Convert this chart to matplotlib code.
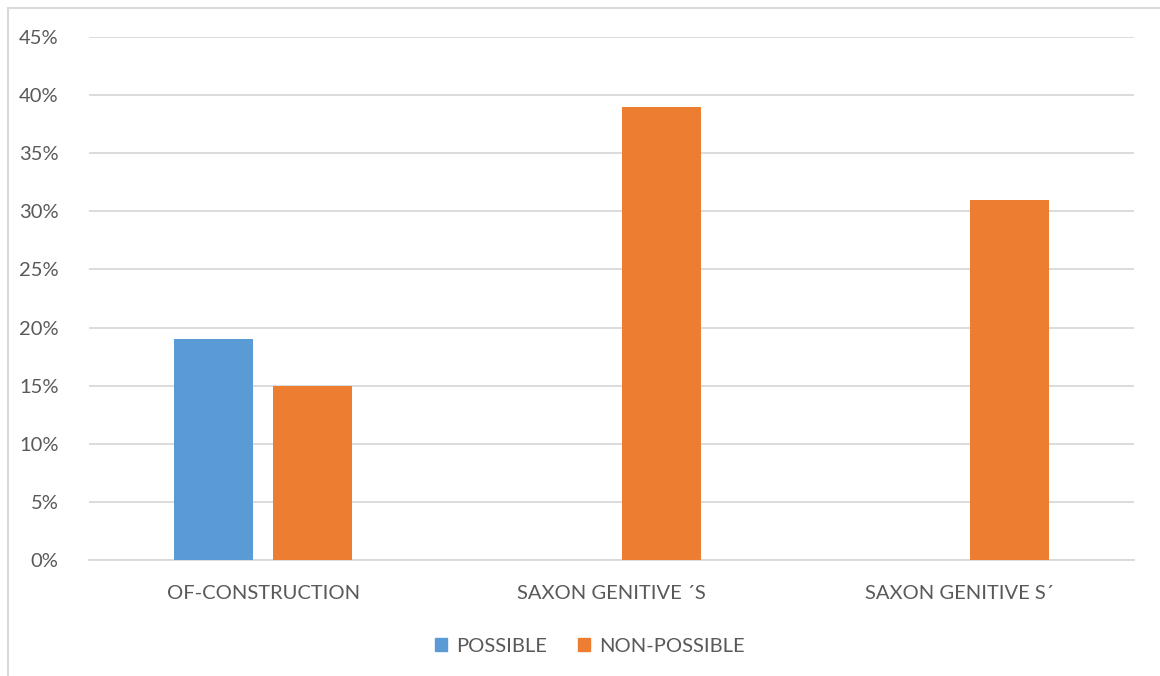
import matplotlib
matplotlib.use('Agg')
import matplotlib.pyplot as plt
from matplotlib.patches import Rectangle, Patch
from matplotlib.ticker import PercentFormatter
import numpy as np

categories = ['OF-CONSTRUCTION', 'SAXON GENITIVE \u00b4S', 'SAXON GENITIVE S\u00b4']
possible = [0.19, 0.0, 0.0]
non_possible = [0.15, 0.39, 0.31]
y_ticks = np.arange(0, 0.451, 0.05)

BLUE = '#5B9BD5'
ORANGE = '#ED7D31'
GRID = '#D9D9D9'
TEXT = '#595959'

plt.rcParams['font.family'] = ['Lato', 'DejaVu Sans']

fig = plt.figure(figsize=(11.6, 6.76), dpi=100)
ax = fig.add_axes([0.0767, 0.1716, 0.9009, 0.7737])

# chart frame (only left/top edges are inside the canvas)
fig.patches.append(Rectangle((7.5 / 1160, -0.1), 1.2, (676 - 7.5) / 676 + 0.1,
                             transform=fig.transFigure, fill=False,
                             edgecolor='#D9D9D9', linewidth=1.5))

x = np.arange(len(categories))
w = 0.227
off = 0.143
ax.bar(x - off, possible, w, color=BLUE, zorder=3)
ax.bar(x + off, non_possible, w, color=ORANGE, zorder=3)

ax.set_xlim(-0.5, 2.5)
ax.set_ylim(0, 0.45)
ax.set_yticks(y_ticks)
ax.yaxis.set_major_formatter(PercentFormatter(1.0, decimals=0))
ax.grid(axis='y', color=GRID, linewidth=1.3, zorder=0)
ax.set_axisbelow(True)
ax.set_xticks(x)
ax.set_xticklabels(categories)
ax.tick_params(axis='both', length=0, labelsize=14.5, colors=TEXT)
ax.tick_params(axis='y', pad=22)
ax.tick_params(axis='x', pad=18)
for sp in ['top', 'right', 'left']:
    ax.spines[sp].set_visible(False)
ax.spines['bottom'].set_color(GRID)
ax.spines['bottom'].set_linewidth(1.3)

handles = [Patch(color=BLUE, label='POSSIBLE'), Patch(color=ORANGE, label='NON-POSSIBLE')]
fig.legend(handles=handles, loc='center', bbox_to_anchor=(590 / 1160, 1 - 646 / 676),
           ncol=2, frameon=False, fontsize=14.5, labelcolor=TEXT,
           handlelength=0.6, handleheight=0.6, handletextpad=0.45, columnspacing=1.55)

fig.savefig('out.png', dpi=100, facecolor='white')
